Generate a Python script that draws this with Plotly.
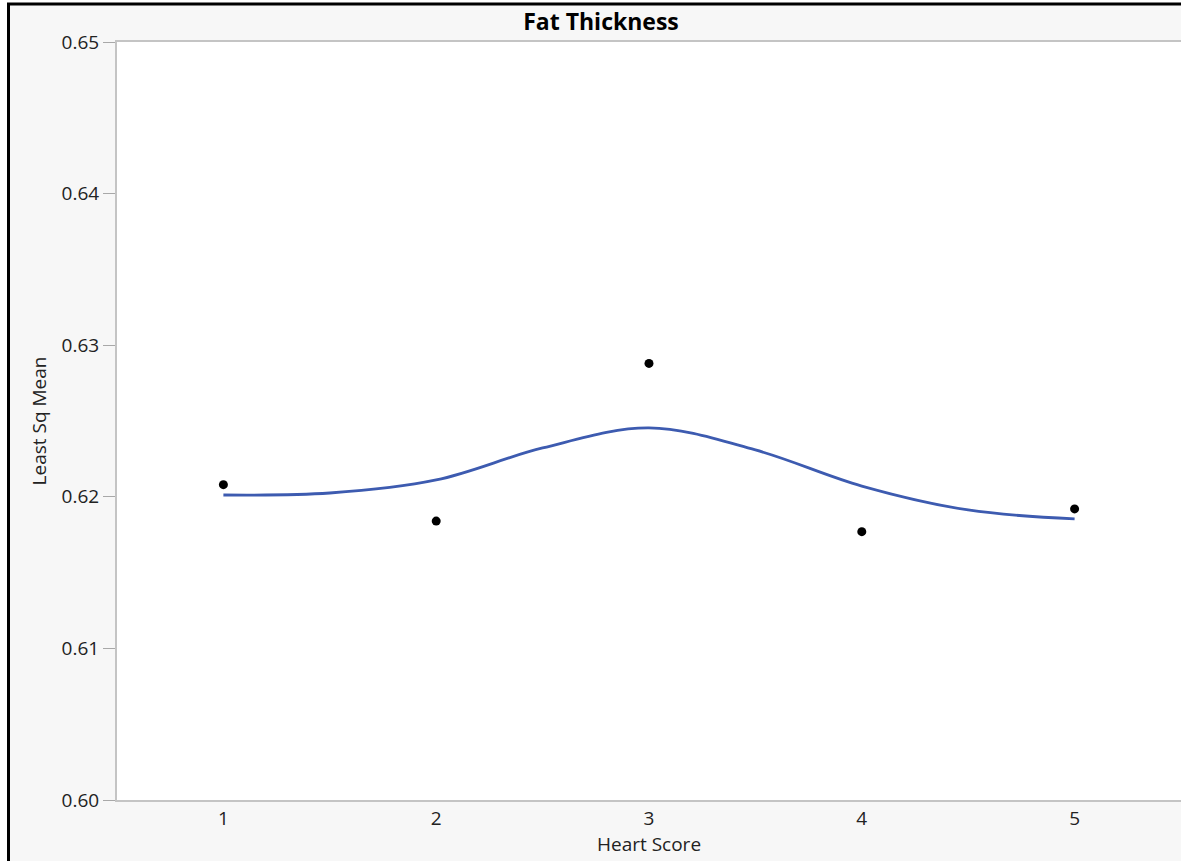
import plotly.graph_objects as go

# Least squares means by heart score
heart_score = [1, 2, 3, 4, 5]
lsmean = [0.6208, 0.6184, 0.6288, 0.6177, 0.6192]

# Smoothing-fit curve, sampled at half-score steps
fit_x = [1, 1.5, 2, 2.5, 3, 3.5, 4, 4.5, 5]
fit_y = [0.62012, 0.62025, 0.62111, 0.62322, 0.62454, 0.62309, 0.62071, 0.61913, 0.61854]

y_ticks = [0.60, 0.61, 0.62, 0.63, 0.64, 0.65]

W, H = 1181, 861
L, R, T, B = 117, 0, 42, 61
pw, ph = W - L - R, H - T - B


def px(x):
    return (x - L) / pw


def py(y):
    return (H - B - y) / ph


FONT = "Open Sans"
TXT = "#222222"

fig = go.Figure()
fig.add_trace(go.Scatter(
    x=fit_x, y=fit_y, mode="lines",
    line=dict(color="#3d5bb0", width=2.8, shape="spline", smoothing=1.0),
    hoverinfo="skip", showlegend=False,
))
fig.add_trace(go.Scatter(
    x=heart_score, y=lsmean, mode="markers",
    marker=dict(color="black", size=9),
    showlegend=False,
))

# Window frame: white margin strip plus a black border on the left and top
shapes = [
    dict(type="rect", xref="paper", yref="paper", x0=px(0), x1=px(7), y0=py(H), y1=py(0),
         fillcolor="white", line=dict(width=0), layer="above"),
    dict(type="rect", xref="paper", yref="paper", x0=px(0), x1=px(W), y0=py(3), y1=py(0),
         fillcolor="white", line=dict(width=0), layer="above"),
    dict(type="line", xref="paper", yref="paper", x0=px(8.5), x1=px(8.5), y0=py(H), y1=py(3),
         line=dict(color="black", width=3), layer="above"),
    dict(type="line", xref="paper", yref="paper", x0=px(7), x1=px(W), y0=py(4), y1=py(4),
         line=dict(color="black", width=3), layer="above"),
]

fig.update_layout(
    width=W, height=H,
    margin=dict(l=L, r=R, t=T, b=B),
    paper_bgcolor="#f7f7f7",
    plot_bgcolor="white",
    font=dict(family=FONT, color=TXT, size=19),
    title=dict(text="<b>Fat Thickness</b>", x=601 / W, xanchor="center",
               y=1 - 22 / H, yanchor="middle", font=dict(size=23, color="black")),
    shapes=shapes,
    xaxis=dict(
        range=[0.5, 5.5], tickvals=heart_score, ticktext=[str(v) for v in heart_score],
        showgrid=False, zeroline=False, showline=True, linecolor="#c4c4c4", linewidth=2,
        mirror=True, ticks="", tickfont=dict(size=19),
        title=dict(text="Heart Score", font=dict(size=19), standoff=4),
    ),
    yaxis=dict(
        range=[0.60, 0.65], tickvals=y_ticks, tickformat=".2f",
        showgrid=False, zeroline=False, showline=True, linecolor="#c4c4c4", linewidth=2,
        mirror=False, ticks="outside", ticklen=12, tickcolor="#a8a8a8", tickwidth=1,
        tickfont=dict(size=19),
        title=dict(text="Least Sq Mean", font=dict(size=19), standoff=10),
    ),
)

fig.write_html("out.html")
